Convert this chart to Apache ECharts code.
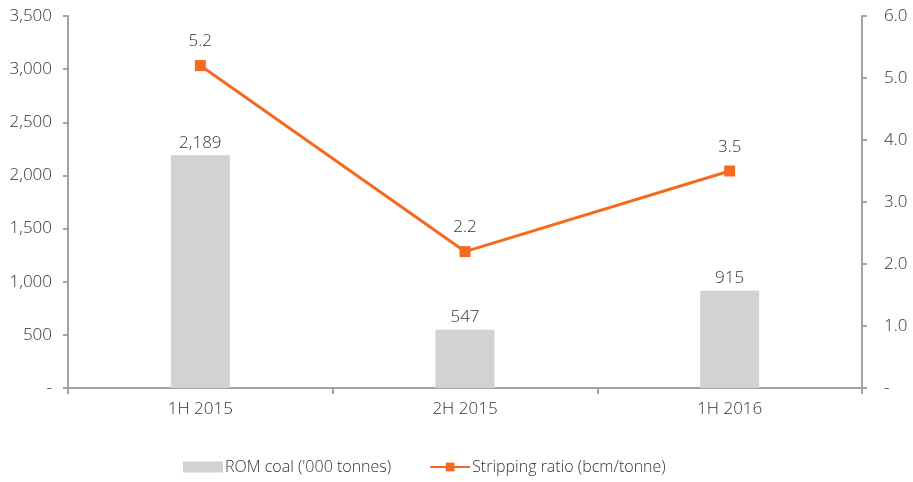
<!DOCTYPE html>
<html>
<head>
<meta charset="utf-8">
<script src="https://cdn.jsdelivr.net/npm/echarts@6/dist/echarts.min.js"></script>
<style>
  html, body { margin: 0; padding: 0; background: #fff; }
  #chart { width: 913px; height: 482px; }
</style>
</head>
<body>
<div id="chart"></div>
<script>
var periods = ["1H 2015", "2H 2015", "1H 2016"];
var romCoal = [2189, 547, 915];
var strippingRatio = [5.2, 2.2, 3.5];

var axisColor = "#a3a3a3";
var textColor = "#333333";
var font = "Open Sans";
var weight = 300;

var chart = echarts.init(document.getElementById("chart"), null, { renderer: "canvas" });

chart.setOption({
  animation: false,
  textStyle: { fontFamily: font, fontWeight: weight },
  grid: { left: 68, right: 51, top: 16, bottom: 94, containLabel: false },
  legend: {
    bottom: 2,
    left: 178,
    itemGap: 38,
    itemWidth: 40,
    itemHeight: 11,
    textStyle: { fontFamily: font, fontWeight: weight, fontSize: 16, color: textColor, padding: [0, 0, 0, -3] },
    data: [
      { name: "ROM coal ('000 tonnes)", icon: "rect" },
      { name: "Stripping ratio (bcm/tonne)" }
    ]
  },
  xAxis: {
    type: "category",
    data: periods,
    boundaryGap: true,
    axisLine: { lineStyle: { color: axisColor, width: 2 } },
    axisTick: { show: true, length: 6, lineStyle: { color: axisColor, width: 2 } },
    axisLabel: { color: textColor, fontFamily: font, fontWeight: weight, fontSize: 17, margin: 13 }
  },
  yAxis: [
    {
      type: "value",
      min: 0,
      max: 3500,
      interval: 500,
      position: "left",
      splitLine: { show: false },
      axisLine: { show: true, lineStyle: { color: axisColor, width: 2 } },
      axisTick: { show: true, length: 5, lineStyle: { color: axisColor, width: 2 } },
      axisLabel: {
        color: textColor,
        fontFamily: font,
        fontWeight: weight,
        fontSize: 17,
        margin: 16,
        formatter: function (v) { return v === 0 ? "-" : v.toLocaleString("en-US"); }
      }
    },
    {
      type: "value",
      min: 0,
      max: 6,
      interval: 1,
      position: "right",
      splitLine: { show: false },
      axisLine: { show: true, lineStyle: { color: axisColor, width: 2 } },
      axisTick: { show: true, length: 5, lineStyle: { color: axisColor, width: 2 } },
      axisLabel: {
        color: textColor,
        fontFamily: font,
        fontWeight: weight,
        fontSize: 17,
        margin: 22,
        formatter: function (v) { return v === 0 ? "-" : v.toFixed(1); }
      }
    }
  ],
  series: [
    {
      name: "ROM coal ('000 tonnes)",
      type: "bar",
      yAxisIndex: 0,
      barWidth: 59,
      data: romCoal,
      itemStyle: { color: "#d1d2d4" },
      label: {
        show: true,
        position: "top",
        distance: 4,
        color: textColor,
        fontFamily: font,
        fontWeight: weight,
        fontSize: 17,
        formatter: function (p) { return p.value.toLocaleString("en-US"); }
      }
    },
    {
      name: "Stripping ratio (bcm/tonne)",
      type: "line",
      yAxisIndex: 1,
      data: strippingRatio,
      symbol: "rect",
      symbolSize: 11,
      lineStyle: { color: "#f26b21", width: 3 },
      itemStyle: { color: "#f26b21" },
      label: {
        show: true,
        position: "top",
        distance: 10,
        color: textColor,
        fontFamily: font,
        fontWeight: weight,
        fontSize: 17,
        formatter: function (p) { return p.value.toFixed(1); }
      }
    }
  ]
});
</script>
</body>
</html>
